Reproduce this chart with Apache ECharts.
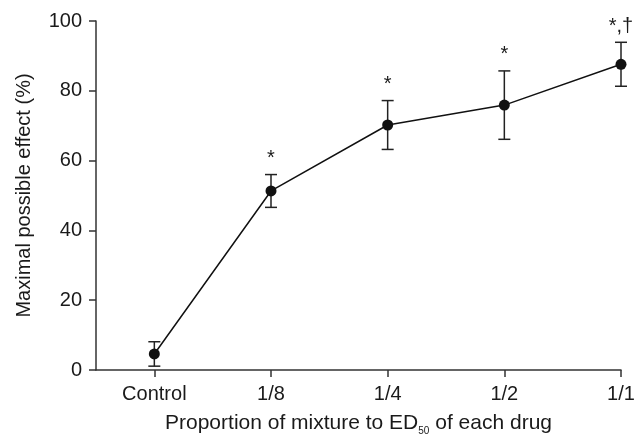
<!DOCTYPE html>
<html>
<head>
<meta charset="utf-8">
<script src="https://cdn.jsdelivr.net/npm/echarts@6/dist/echarts.min.js"></script>
<style>html,body{margin:0;padding:0;background:#fff}#c{width:638px;height:441px}</style>
</head>
<body>
<div id="c"></div>
<script>
var categories = ['Control', '1/8', '1/4', '1/2', '1/1'];
var means = [4.6, 51.3, 70.2, 75.9, 87.6];
var errors = [3.5, 4.7, 7.0, 9.8, 6.3];
var annotations = ['', '*', '*', '*', '*,\u2020'];
var yTicks = [0, 20, 40, 60, 80, 100];

var FONT = '"Liberation Sans", Arial, sans-serif';
var COLOR = '#1a1a1a';

var lineData = means.map(function (m, i) { return [i, m]; });
var errData = means.map(function (m, i) { return [i, m - errors[i], m + errors[i]]; });

var chart = echarts.init(document.getElementById('c'), null, { renderer: 'canvas' });
chart.setOption({
  animation: false,
  backgroundColor: '#fff',
  grid: { left: 96, right: 17, top: 21, bottom: 68, containLabel: false },
  xAxis: {
    type: 'value',
    min: -0.5,
    max: 4,
    name: 'Proportion of mixture to ED{sub|50} of each drug',
    nameLocation: 'middle',
    nameGap: 40,
    nameTextStyle: {
      fontFamily: FONT, fontSize: 21, color: COLOR, lineHeight: 26,
      rich: { sub: { fontFamily: FONT, fontSize: 10, color: COLOR, verticalAlign: 'bottom', lineHeight: 10 } }
    },
    splitLine: { show: false },
    axisLine: { show: true, onZero: false, lineStyle: { color: '#333', width: 1.5 } },
    axisTick: { show: true, customValues: [0, 1, 2, 3, 4], length: 7, inside: false, lineStyle: { color: '#333', width: 1.5 } },
    axisLabel: {
      customValues: [0, 1, 2, 3, 4],
      formatter: function (v) { return categories[Math.round(v)] || ''; },
      fontFamily: FONT, fontSize: 20, color: COLOR, margin: 14
    }
  },
  yAxis: {
    type: 'value',
    min: 0,
    max: 100,
    interval: 20,
    name: 'Maximal possible effect (%)',
    nameLocation: 'middle',
    nameGap: 62,
    nameTextStyle: { fontFamily: FONT, fontSize: 20, color: COLOR },
    splitLine: { show: false },
    axisLine: { show: true, onZero: false, lineStyle: { color: '#333', width: 1.5 } },
    axisTick: { show: true, length: 7, lineStyle: { color: '#333', width: 1.5 } },
    axisLabel: {
      fontFamily: FONT, fontSize: 20, color: COLOR, margin: 14,
      formatter: function (v) { return yTicks.indexOf(v) >= 0 ? String(v) : ''; }
    }
  },
  series: [
    {
      type: 'custom',
      name: 'error',
      data: errData,
      z: 3,
      renderItem: function (params, api) {
        var x = api.value(0);
        var lo = api.coord([x, api.value(1)]);
        var hi = api.coord([x, api.value(2)]);
        var hw = 6;
        var idx = params.dataIndex;
        var children = [
          { type: 'line', shape: { x1: lo[0], y1: lo[1], x2: hi[0], y2: hi[1] }, style: { stroke: '#222', lineWidth: 1.5 } },
          { type: 'line', shape: { x1: lo[0] - hw, y1: lo[1], x2: lo[0] + hw, y2: lo[1] }, style: { stroke: '#222', lineWidth: 1.5 } },
          { type: 'line', shape: { x1: hi[0] - hw, y1: hi[1], x2: hi[0] + hw, y2: hi[1] }, style: { stroke: '#222', lineWidth: 1.5 } }
        ];
        if (annotations[idx]) {
          children.push({
            type: 'text',
            style: {
              text: annotations[idx], x: hi[0], y: hi[1] - 6,
              align: 'center', verticalAlign: 'bottom',
              fontFamily: FONT, fontSize: 20, fill: COLOR
            }
          });
        }
        return { type: 'group', children: children };
      }
    },
    {
      type: 'line',
      name: 'mean',
      data: lineData,
      z: 4,
      symbol: 'circle',
      symbolSize: 11,
      itemStyle: { color: '#111' },
      lineStyle: { color: '#111', width: 1.5 }
    }
  ]
});
</script>
</body>
</html>
